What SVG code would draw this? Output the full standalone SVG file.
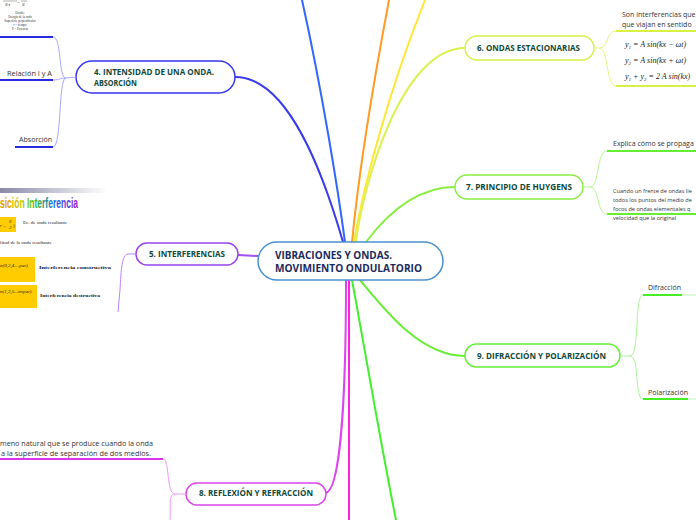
<svg xmlns="http://www.w3.org/2000/svg" width="696" height="520" viewBox="0 0 696 520">
<defs>
<style>
.nt{font-family:"Open Sans","DejaVu Sans",sans-serif;font-weight:bold;font-size:8px;fill:#10483a}
.ctr{font-family:"Open Sans","DejaVu Sans",sans-serif;font-weight:bold;font-size:10.5px;fill:#1b2a5c}
.ct{font-family:"Open Sans","DejaVu Sans",sans-serif;font-size:7px;fill:#333}
.sm{font-family:"Open Sans","DejaVu Sans",sans-serif;font-size:5.6px;fill:#333}
.ser{font-family:"Liberation Serif",serif;font-size:5px;fill:#222}
.eq{font-family:"Liberation Serif",serif;font-style:italic;font-size:8px;fill:#222}
.box{fill:#fff;stroke-width:1.5}
.c{fill:none;stroke-width:2;stroke-linecap:round}
.b{fill:none;stroke-width:1}
.u{fill:none;stroke-width:2}
</style>
<linearGradient id="rb" x1="0" y1="0" x2="78" y2="0" gradientUnits="userSpaceOnUse">
<stop offset="0" stop-color="#f08a00"/>
<stop offset="0.25" stop-color="#c8c800"/>
<stop offset="0.45" stop-color="#33bb33"/>
<stop offset="0.7" stop-color="#2266dd"/>
<stop offset="1" stop-color="#9922cc"/>
</linearGradient>
<linearGradient id="gb" x1="0" y1="0" x2="1" y2="0">
<stop offset="0" stop-color="#8a8aa8"/>
<stop offset="1" stop-color="#ffffff"/>
</linearGradient>
</defs>

<g id="connectors">
<path class="c" stroke="#3366ff" d="M345,242 C338,190 322,90 302,0"/>
<path class="c" stroke="#3a3aee" d="M235,77 C290,77 325,180 343,242"/>
<path class="c" stroke="#ff9a22" d="M352,242 C358,180 372,90 389,0"/>
<path class="c" stroke="#ffe833" d="M354,242 C362,195 385,100 425,0"/>
<path class="c" stroke="#dcf050" d="M356,242 C362,190 400,48 465,48"/>
<path class="c" stroke="#88ee44" d="M366,242 C390,210 420,187 455,187"/>
<path class="c" stroke="#a050f0" d="M238,255 L258,256"/>
<path class="c" stroke="#dd44ee" d="M346,280 C346,400 340,493 325,493"/>
<path class="c" stroke="#ff22dd" d="M349,280 L349,520"/>
<path class="c" stroke="#44ee33" d="M352,280 C365,350 380,440 396,520"/>
<path class="c" stroke="#66ee33" d="M360,280 C385,310 420,356 465,356"/>
</g>

<g id="center">
<rect x="258" y="242" width="185" height="38" rx="19" fill="#fff" stroke="#4a90d0" stroke-width="1.5"/>
<text class="ctr" x="275" y="259" textLength="117" lengthAdjust="spacingAndGlyphs">VIBRACIONES Y ONDAS.</text>
<text class="ctr" x="275" y="272" textLength="147" lengthAdjust="spacingAndGlyphs">MOVIMIENTO ONDULATORIO</text>
</g>

<g id="n4">
<rect class="box" x="76" y="61" width="159" height="32" rx="16" stroke="#3535f0"/>
<text class="nt" x="94" y="75" textLength="120" lengthAdjust="spacingAndGlyphs">4. INTENSIDAD DE UNA ONDA.</text>
<text class="nt" x="94" y="86" textLength="43" lengthAdjust="spacingAndGlyphs">ABSORCIÓN</text>
<path class="b" stroke="#a8a8ff" d="M76,77 L66,78 C58,78 62,37 53,37 M66,78 C60,78 60,80 53,80 M66,78 C58,78 62,147 53,147"/>
<path class="u" stroke="#2a2ae0" d="M0,37 L53,37 M0,80 L53,80 M15,147 L53,147"/>
<text class="ct" x="7" y="76" textLength="45" lengthAdjust="spacingAndGlyphs">Relación I y A</text>
<text class="ct" x="19" y="142" textLength="33" lengthAdjust="spacingAndGlyphs">Absorción</text>
<path d="M3,1 L17,1 M21,1 L27,1" stroke="#333" stroke-width="0.4"/>
<text class="ser" font-style="italic" x="5" y="6">S·t</text>
<text class="ser" x="17" y="4">=</text>
<text class="ser" font-style="italic" x="22" y="6">S</text>
<g font-family="Liberation Serif,serif" font-size="3.2" fill="#333" text-anchor="middle">
<text x="20" y="14">Donde:</text>
<text x="20" y="18">Energía de la onda</text>
<text x="20" y="22">Superficie perpendicular</text>
<text x="20" y="26">t = tiempo</text>
<text x="20" y="30">P = Potencia</text>
</g>
</g>

<g id="n5">
<rect class="box" x="136" y="243" width="102" height="22" rx="11" stroke="#9a44ee"/>
<text class="nt" x="149" y="257" textLength="76" lengthAdjust="spacingAndGlyphs">5. INTERFERENCIAS</text>
<path class="b" stroke="#c080ff" d="M136,254 L128,254 C122,254 121,270 120,290 L118,312"/>
<rect x="0" y="188" width="107" height="5" fill="url(#gb)"/>
<text x="0" y="208" font-family="Liberation Sans,Arial,sans-serif" font-weight="bold" font-size="14" fill="url(#rb)" textLength="78" lengthAdjust="spacingAndGlyphs">sición Interferencia</text>
<rect x="0" y="217" width="16" height="15" fill="#ffcc00"/>
<text class="ser" font-style="italic" x="0" y="227">r – </text>
<text class="ser" font-style="italic" x="9" y="223" font-size="4">θ</text>
<text class="ser" font-style="italic" x="9" y="229" font-size="4">2</text>
<text class="ser" x="13" y="227">)</text>
<text class="ser" x="23" y="224" fill="#8888bb">Ec. de onda resultante</text>
<text class="ser" x="0" y="244" fill="#8888bb">litud de la onda resultante</text>
<rect x="0" y="257" width="35" height="25" fill="#ffcc00"/>
<text class="ser" font-style="italic" x="0" y="267" font-size="4.5">n(0,2,4....par)</text>
<text class="ser" x="39" y="269" fill="#ff2222" font-weight="bold" textLength="72" lengthAdjust="spacingAndGlyphs">Interferencia constructiva</text>
<rect x="0" y="285" width="37" height="23" fill="#ffcc00"/>
<text class="ser" font-style="italic" x="0" y="293" font-size="4.5">n(1,3,5...impar)</text>
<text class="ser" x="40" y="297" fill="#ff2222" font-weight="bold" textLength="60" lengthAdjust="spacingAndGlyphs">Interferencia destructiva</text>
</g>

<g id="n6">
<rect class="box" x="465" y="36" width="129" height="24" rx="12" stroke="#d8f048"/>
<text class="nt" x="477" y="51" textLength="103" lengthAdjust="spacingAndGlyphs">6. ONDAS ESTACIONARIAS</text>
<path class="b" stroke="#e6f580" d="M594,48 L600,48 C608,48 606,31 616,31 M600,48 C608,48 606,86 616,86"/>
<path class="u" stroke="#d8f040" d="M616,31 L696,31 M616,86 L696,86"/>
<text class="ct" x="622" y="17">Son interferencias que</text>
<text class="ct" x="622" y="27">que viajan en sentido</text>
<text class="eq" x="625" y="47">y<tspan font-size="5" dy="1.5">1</tspan><tspan dy="-1.5"> = A sin(kx − ωt)</tspan></text>
<text class="eq" x="625" y="63">y<tspan font-size="5" dy="1.5">2</tspan><tspan dy="-1.5"> = A sin(kx + ωt)</tspan></text>
<text class="eq" x="625" y="79">y<tspan font-size="5" dy="1.5">1</tspan><tspan dy="-1.5"> + y</tspan><tspan font-size="5" dy="1.5">2</tspan><tspan dy="-1.5"> = 2 A sin(kx)</tspan></text>
</g>

<g id="n7">
<rect class="box" x="455" y="175" width="128" height="24" rx="12" stroke="#88ee44"/>
<text class="nt" x="466" y="190" textLength="106" lengthAdjust="spacingAndGlyphs">7. PRINCIPIO DE HUYGENS</text>
<path class="b" stroke="#b8f590" d="M583,187 L590,187 C600,187 596,151 607,151 M590,187 C600,187 596,214 607,214"/>
<path class="u" stroke="#66ee33" d="M607,151 L696,151 M607,214 L696,214"/>
<text class="ct" x="613" y="146">Explica cómo se propaga</text>
<text class="sm" x="613" y="193">Cuando un frente de ondas lle</text>
<text class="sm" x="613" y="202">todos los puntos del medio de</text>
<text class="sm" x="613" y="211">focos de ondas elementales q</text>
<text class="sm" x="613" y="220">velocidad que la original</text>
</g>

<g id="n8">
<rect class="box" x="186" y="483" width="140" height="22" rx="11" stroke="#dd44ee"/>
<text class="nt" x="199" y="496" textLength="114" lengthAdjust="spacingAndGlyphs">8. REFLEXIÓN Y REFRACCIÓN</text>
<path class="b" stroke="#ee99f5" d="M186,494 L175,494 C166,494 170,459 163,459 M175,494 C168,494 171,505 170,520"/>
<path class="u" stroke="#dd33ee" d="M0,459 L163,459"/>
<text class="ct" x="0" y="446" textLength="153" lengthAdjust="spacingAndGlyphs">meno natural que se produce cuando la onda</text>
<text class="ct" x="1" y="456" textLength="150" lengthAdjust="spacingAndGlyphs">a la superficie de separación de dos medios.</text>
</g>

<g id="n9">
<rect class="box" x="465" y="344" width="155" height="23" rx="11.5" stroke="#66ee33"/>
<text class="nt" x="477" y="359" textLength="129" lengthAdjust="spacingAndGlyphs">9. DIFRACCIÓN Y POLARIZACIÓN</text>
<path class="b" stroke="#aaf59a" d="M620,356 L630,356 C640,356 634,295 643,295 M630,356 C640,356 634,399 643,399"/>
<path class="u" stroke="#44ee22" d="M643,295 L682,295 M643,399 L688,399"/>
<path class="b" stroke="#bbf5bb" d="M682,295 L696,295 M688,399 L696,399"/>
<text class="ct" x="648" y="290" textLength="33" lengthAdjust="spacingAndGlyphs">Difracción</text>
<text class="ct" x="648" y="395" textLength="40" lengthAdjust="spacingAndGlyphs">Polarización</text>
</g>
</svg>
